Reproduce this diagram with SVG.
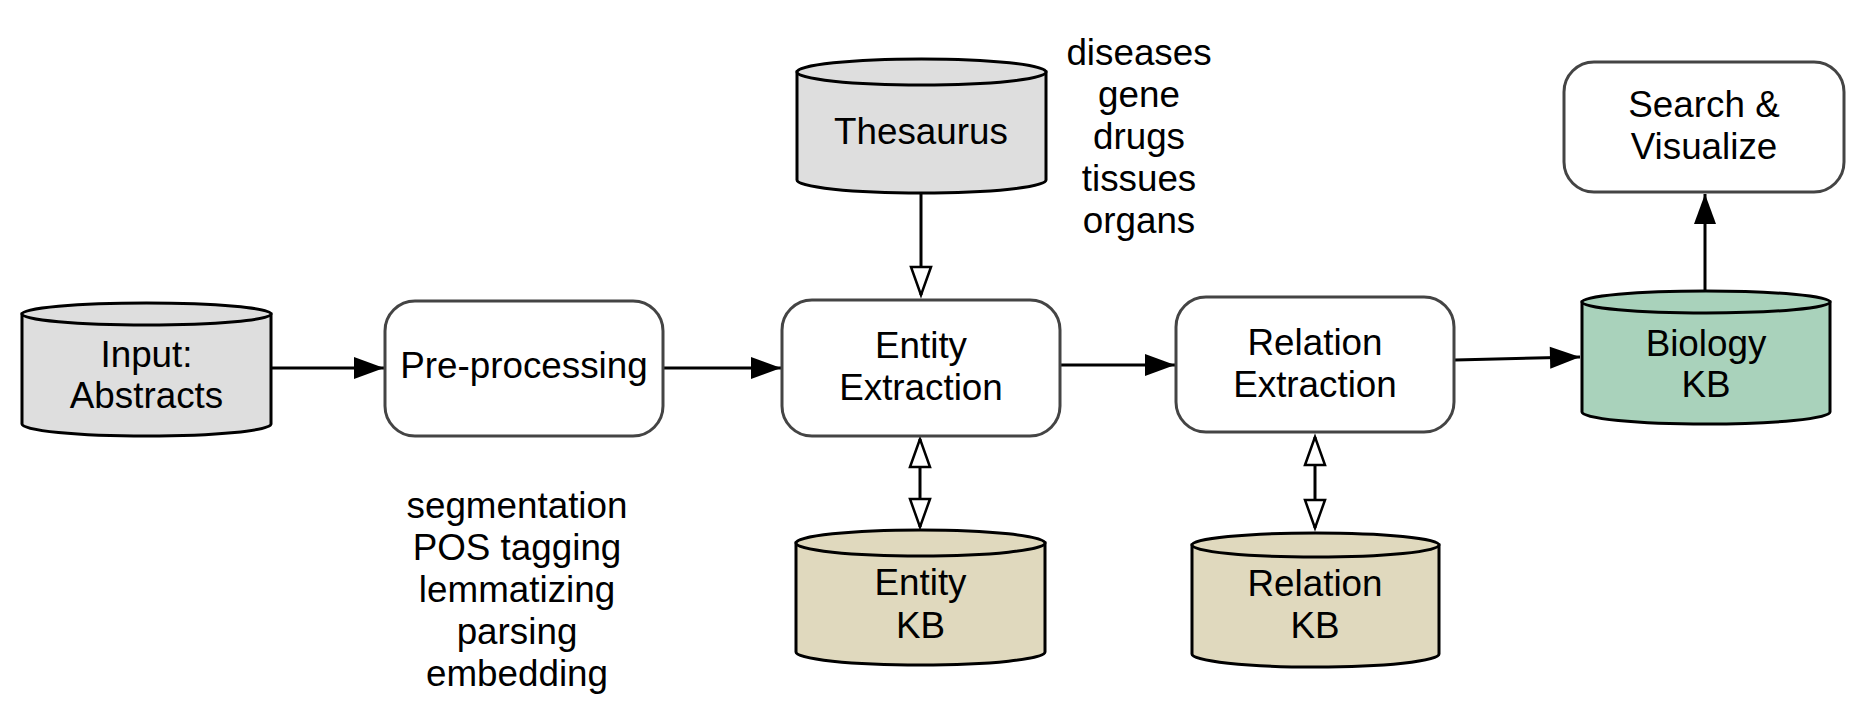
<svg xmlns="http://www.w3.org/2000/svg" width="1868" height="716" viewBox="0 0 1868 716">
<style>
text{font-family:"Liberation Sans",Arial,sans-serif;font-size:36.8px;fill:#000;text-anchor:middle}
.box{fill:#fff;stroke:#444;stroke-width:3}
.cyl{stroke:#000;stroke-width:3}
.gray{fill:#dedede}
.tan{fill:#e0d9be}
.green{fill:#a9d2bb}
.edge{fill:none;stroke:#000;stroke-width:3}
</style>
<defs>
<marker id="fill" markerUnits="userSpaceOnUse" markerWidth="32" markerHeight="24" refX="30" refY="11" orient="auto" overflow="visible">
<path d="M0,0 L30,11 L0,22 Z" fill="#000"/>
</marker>
<marker id="open" markerUnits="userSpaceOnUse" markerWidth="32" markerHeight="24" refX="28" refY="10" orient="auto-start-reverse" overflow="visible">
<path d="M0,0 L28,10 L0,20 Z" fill="#fff" stroke="#000" stroke-width="2.5"/>
</marker>
</defs>

<g id="connectors">
<line class="edge" x1="271" y1="368" x2="384" y2="368" marker-end="url(#fill)"/>
<line class="edge" x1="663" y1="368" x2="781" y2="368" marker-end="url(#fill)"/>
<line class="edge" x1="1060" y1="365" x2="1175" y2="365" marker-end="url(#fill)"/>
<line class="edge" x1="1455" y1="360" x2="1580" y2="357" marker-end="url(#fill)"/>
<line class="edge" x1="1705" y1="291" x2="1705" y2="194" marker-end="url(#fill)"/>
<line class="edge" x1="921" y1="193" x2="921" y2="295" marker-end="url(#open)"/>
<line class="edge" x1="920" y1="439" x2="920" y2="527" marker-start="url(#open)" marker-end="url(#open)"/>
<line class="edge" x1="1315" y1="437" x2="1315" y2="528" marker-start="url(#open)" marker-end="url(#open)"/>
</g>

<g id="input">
<path class="cyl gray" d="M22,314 L22,424 A124.5,12 0 0 0 271,424 L271,314 Z"/>
<ellipse class="cyl gray" cx="146.5" cy="314" rx="124.5" ry="11"/>
<text x="146.5" y="367">Input:</text>
<text x="146.5" y="408">Abstracts</text>
</g>

<g id="preprocessing">
<rect class="box" x="385" y="301" width="278" height="135" rx="30"/>
<text x="524" y="378">Pre-processing</text>
</g>

<g id="entity-extraction">
<rect class="box" x="782" y="300" width="278" height="136" rx="30"/>
<text x="921" y="358">Entity</text>
<text x="921" y="400">Extraction</text>
</g>

<g id="relation-extraction">
<rect class="box" x="1176" y="297" width="278" height="135" rx="30"/>
<text x="1315" y="355">Relation</text>
<text x="1315" y="397">Extraction</text>
</g>

<g id="biology-kb">
<path class="cyl green" d="M1582,302 L1582,412 A124,12 0 0 0 1830,412 L1830,302 Z"/>
<ellipse class="cyl green" cx="1706" cy="302" rx="124" ry="11"/>
<text x="1706" y="356">Biology</text>
<text x="1706" y="397">KB</text>
</g>

<g id="search-visualize">
<rect class="box" x="1564" y="62" width="280" height="130" rx="30"/>
<text x="1704" y="117">Search &amp;</text>
<text x="1704" y="159">Visualize</text>
</g>

<g id="thesaurus">
<path class="cyl gray" d="M797,72 L797,180 A124.5,13 0 0 0 1046,180 L1046,72 Z"/>
<ellipse class="cyl gray" cx="921.5" cy="72" rx="124.5" ry="13"/>
<text x="921" y="144">Thesaurus</text>
</g>

<g id="entity-kb">
<path class="cyl tan" d="M796,543 L796,652 A124.5,13 0 0 0 1045,652 L1045,543 Z"/>
<ellipse class="cyl tan" cx="920.5" cy="543" rx="124.5" ry="13"/>
<text x="920.5" y="595">Entity</text>
<text x="920.5" y="638">KB</text>
</g>

<g id="relation-kb">
<path class="cyl tan" d="M1192,545 L1192,654 A123.5,13 0 0 0 1439,654 L1439,545 Z"/>
<ellipse class="cyl tan" cx="1315.5" cy="545" rx="123.5" ry="12"/>
<text x="1315" y="596">Relation</text>
<text x="1315" y="638">KB</text>
</g>

<g id="thesaurus-terms">
<text x="1139" y="65">diseases</text>
<text x="1139" y="107">gene</text>
<text x="1139" y="149">drugs</text>
<text x="1139" y="191">tissues</text>
<text x="1139" y="233">organs</text>
</g>

<g id="preprocessing-steps">
<text x="517" y="518">segmentation</text>
<text x="517" y="560">POS tagging</text>
<text x="517" y="602">lemmatizing</text>
<text x="517" y="644">parsing</text>
<text x="517" y="686">embedding</text>
</g>
</svg>
